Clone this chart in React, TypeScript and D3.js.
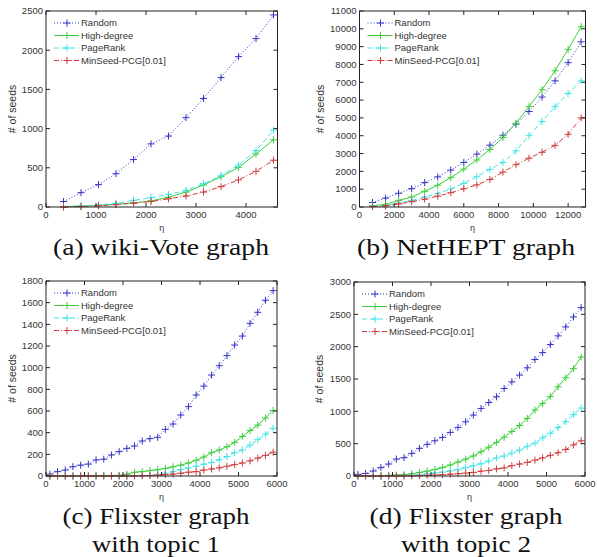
import React, { useEffect } from "react";
import * as d3 from "d3";

// legend / series styling
const SERIES = ["Random", "High-degree", "PageRank", "MinSeed-PCG[0.01]"];
const COLORS = ["#3434c8", "#3ccf3c", "#40e4e4", "#d03c3c"];
const DASHES = ["1,2", "none", "5,3", "5,2,1,2"];

// (a) wiki-Vote
const wikiEta = [350, 700, 1050, 1400, 1750, 2100, 2450, 2800, 3150, 3500, 3850, 4200, 4550];
const wikiRandom = [70, 183, 285, 425, 605, 805, 905, 1140, 1385, 1650, 1918, 2148, 2450];
const wikiHigh = [3, 10, 20, 35, 52, 78, 125, 190, 280, 385, 505, 675, 858];
const wikiPR = [6, 15, 27, 47, 85, 118, 160, 212, 298, 398, 535, 720, 980];
const wikiMin = [0, 5, 15, 30, 50, 70, 105, 140, 190, 260, 345, 455, 597];
const wikiXTicks = [0, 1000, 2000, 3000, 4000];
const wikiYTicks = [0, 500, 1000, 1500, 2000, 2500];

// (b) NetHEPT
const hepEta = [750, 1500, 2250, 3000, 3750, 4500, 5250, 6000, 6750, 7500, 8250, 9000, 9750, 10500, 11250, 12000, 12750];
const hepRandom = [250, 500, 770, 1030, 1370, 1690, 2070, 2500, 2970, 3470, 4030, 4650, 5360, 6170, 7080, 8100, 9270];
const hepHigh = [70, 150, 370, 560, 880, 1220, 1650, 2130, 2640, 3230, 3900, 4700, 5640, 6580, 7650, 8850, 10120];
const hepPR = [40, 90, 220, 370, 560, 760, 1020, 1330, 1700, 2110, 2500, 3150, 4000, 4800, 5630, 6370, 7080];
const hepMin = [20, 60, 170, 300, 440, 610, 800, 1020, 1240, 1540, 1960, 2370, 2740, 3070, 3460, 4080, 5000];
const hepXTicks = [0, 2000, 4000, 6000, 8000, 10000, 12000];
const hepYTicks = [0, 1000, 2000, 3000, 4000, 5000, 6000, 7000, 8000, 9000, 10000, 11000];

// (c)/(d) Flixster
const flxEta = [100, 300, 500, 700, 900, 1100, 1300, 1500, 1700, 1900, 2100, 2300, 2500, 2700, 2900,
  3100, 3300, 3500, 3700, 3900, 4100, 4300, 4500, 4700, 4900, 5100, 5300, 5500, 5700, 5900];
const t1Random = [18, 40, 55, 86, 100, 110, 148, 155, 194, 225, 255, 277, 323, 345, 357,
  430, 480, 563, 640, 748, 830, 932, 1018, 1111, 1209, 1292, 1409, 1511, 1622, 1711];
const t1High = [0, 0, 0, 2, 3, 4, 5, 5, 5, 6, 15, 35, 40, 50, 58,
  70, 85, 100, 120, 145, 175, 215, 240, 270, 310, 365, 420, 470, 535, 605];
const t1PR = [0, 0, 0, 0, 0, 0, 0, 0, 0, 0, 0, 1, 2, 5, 15,
  25, 40, 60, 75, 90, 110, 125, 150, 180, 215, 240, 285, 335, 385, 440];
const t1Min = [0, 0, 0, 0, 0, 0, 0, 0, 0, 0, 0, 0, 3, 5, 8,
  12, 18, 25, 35, 40, 55, 65, 75, 90, 105, 120, 140, 165, 190, 220];
const t1XTicks = [0, 1000, 2000, 3000, 4000, 5000, 6000];
const t1YTicks = [0, 200, 400, 600, 800, 1000, 1200, 1400, 1600, 1800];

const t2Random = [25, 40, 77, 130, 185, 262, 283, 350, 427, 489, 545, 597, 674, 751, 839,
  942, 1045, 1137, 1225, 1353, 1456, 1560, 1673, 1801, 1909, 2033, 2167, 2306, 2460, 2604];
const t2High = [0, 0, 2, 5, 10, 15, 20, 35, 55, 75, 100, 130, 170, 215, 260,
  310, 375, 445, 520, 600, 690, 780, 890, 1020, 1120, 1230, 1380, 1520, 1660, 1840];
const t2PR = [0, 0, 0, 0, 1, 2, 5, 10, 20, 35, 45, 60, 80, 100, 130,
  160, 190, 230, 280, 310, 355, 400, 460, 510, 590, 660, 750, 840, 950, 1050];
const t2Min = [0, 0, 0, 0, 0, 0, 0, 2, 5, 10, 15, 20, 28, 35, 45,
  55, 75, 85, 110, 125, 160, 185, 210, 245, 280, 320, 360, 410, 480, 545];
const t2XTicks = [0, 1000, 2000, 3000, 4000, 5000, 6000];
const t2YTicks = [0, 500, 1000, 1500, 2000, 2500, 3000];

const PANELS = [
  { eta: wikiEta, ys: [wikiRandom, wikiHigh, wikiPR, wikiMin], xMax: 4630, yMax: 2500,
    xTicks: wikiXTicks, yTicks: wikiYTicks,
    box: { l: 46, r: 277.5, t: 11, b: 207 }, ylabX: 12,
    caption: ["(a) wiki-Vote graph"], capX: 161, capW: [216] },
  { eta: hepEta, ys: [hepRandom, hepHigh, hepPR, hepMin], xMax: 13000, yMax: 11000,
    xTicks: hepXTicks, yTicks: hepYTicks,
    box: { l: 359.5, r: 585.5, t: 11, b: 207 }, ylabX: 320,
    caption: ["(b) NetHEPT graph"], capX: 466, capW: [218] },
  { eta: flxEta, ys: [t1Random, t1High, t1PR, t1Min], xMax: 6000, yMax: 1800,
    xTicks: t1XTicks, yTicks: t1YTicks,
    box: { l: 46, r: 277, t: 281, b: 476 }, ylabX: 12,
    caption: ["(c) Flixster graph", "with topic 1"], capX: 156, capW: [187, 128] },
  { eta: flxEta, ys: [t2Random, t2High, t2PR, t2Min], xMax: 6000, yMax: 3000,
    xTicks: t2XTicks, yTicks: t2YTicks,
    box: { l: 354, r: 585, t: 282, b: 476 }, ylabX: 319,
    caption: ["(d) Flixster graph", "with topic 2"], capX: 466, capW: [193, 130] },
];

const SANS = { fontFamily: '"Liberation Sans", Arial, Helvetica, sans-serif' };
const SERIF = { fontFamily: '"Liberation Serif", "DejaVu Serif", "Times New Roman", serif' };
const TXT = "#333";

const plus = (x: number, y: number, s = 3.5) =>
  `M${x - s},${y}H${x + s}M${x},${y - s}V${y + s}`;

function Panel({ p }: { p: any }) {
  const { l, r, t, b } = p.box;
  const x = d3.scaleLinear().domain([0, p.xMax]).range([l, r]);
  const y = d3.scaleLinear().domain([0, p.yMax]).range([b, t]);
  const tl = 4;

  return (
    <g>
      <rect x={l} y={t} width={r - l} height={b - t} fill="#fff" />
      {p.ys.map((vals: number[], si: number) => {
        const pts: [number, number][] = p.eta.map((e: number, i: number) => [x(e), y(vals[i])]);
        const line = d3.line()(pts) || "";
        return (
          <g key={si}>
            <path d={line} fill="none" stroke={COLORS[si]} strokeWidth={1}
              strokeDasharray={DASHES[si]} />
            <path d={pts.map(([px, py]) => plus(px, py)).join("")} stroke={COLORS[si]}
              strokeWidth={1} fill="none" />
          </g>
        );
      })}
      {/* axes box with inward ticks on all sides */}
      <rect x={l} y={t} width={r - l} height={b - t} fill="none" stroke="#222" strokeWidth={1} />
      {p.xTicks.map((v: number) => (
        <g key={"x" + v}>
          <line x1={x(v)} x2={x(v)} y1={b} y2={b - tl} stroke="#222" />
          <line x1={x(v)} x2={x(v)} y1={t} y2={t + tl} stroke="#222" />
          <text x={x(v)} y={b + 10.5} fontSize={9.5} style={SANS} fill={TXT}
            textAnchor="middle">{v}</text>
        </g>
      ))}
      {p.yTicks.map((v: number) => (
        <g key={"y" + v}>
          <line x1={l} x2={l + tl} y1={y(v)} y2={y(v)} stroke="#222" />
          <line x1={r} x2={r - tl} y1={y(v)} y2={y(v)} stroke="#222" />
          <text x={l - 3} y={y(v) + 3.3} fontSize={9.5} style={SANS} fill={TXT}
            textAnchor="end">{v}</text>
        </g>
      ))}
      <text x={(l + r) / 2} y={b + 24} fontSize={9} style={SANS} fill={TXT}
        textAnchor="middle">η</text>
      <text transform={`translate(${p.ylabX},${(t + b) / 2}) rotate(-90)`} y={3.5}
        fontSize={10.5} style={SANS} fill={TXT} textAnchor="middle"># of seeds</text>
      {/* legend */}
      {SERIES.map((name, si) => {
        const ly = t + 12 + si * 12.5;
        return (
          <g key={name}>
            <line x1={l + 8} x2={l + 33} y1={ly} y2={ly} stroke={COLORS[si]}
              strokeDasharray={DASHES[si]} />
            <path d={plus(l + 21, ly)} stroke={COLORS[si]} />
            <text x={l + 35} y={ly + 3.4} fontSize={9.5} style={SANS} fill={TXT}>{name}</text>
          </g>
        );
      })}
      {p.caption.map((c: string, i: number) => (
        <text key={c} x={p.capX} y={b + 48 + i * 28} fontSize={23}
          style={SERIF} fill="#111" textAnchor="middle"
          textLength={p.capW[i]} lengthAdjust="spacingAndGlyphs">{c}</text>
      ))}
    </g>
  );
}

export default function App() {
  useEffect(() => {
    document.body.style.margin = "0";
  }, []);
  return (
    <svg width={597} height={557} style={{ display: "block", background: "#fff" }}>
      {PANELS.map((p, i) => <Panel key={i} p={p} />)}
    </svg>
  );
}
